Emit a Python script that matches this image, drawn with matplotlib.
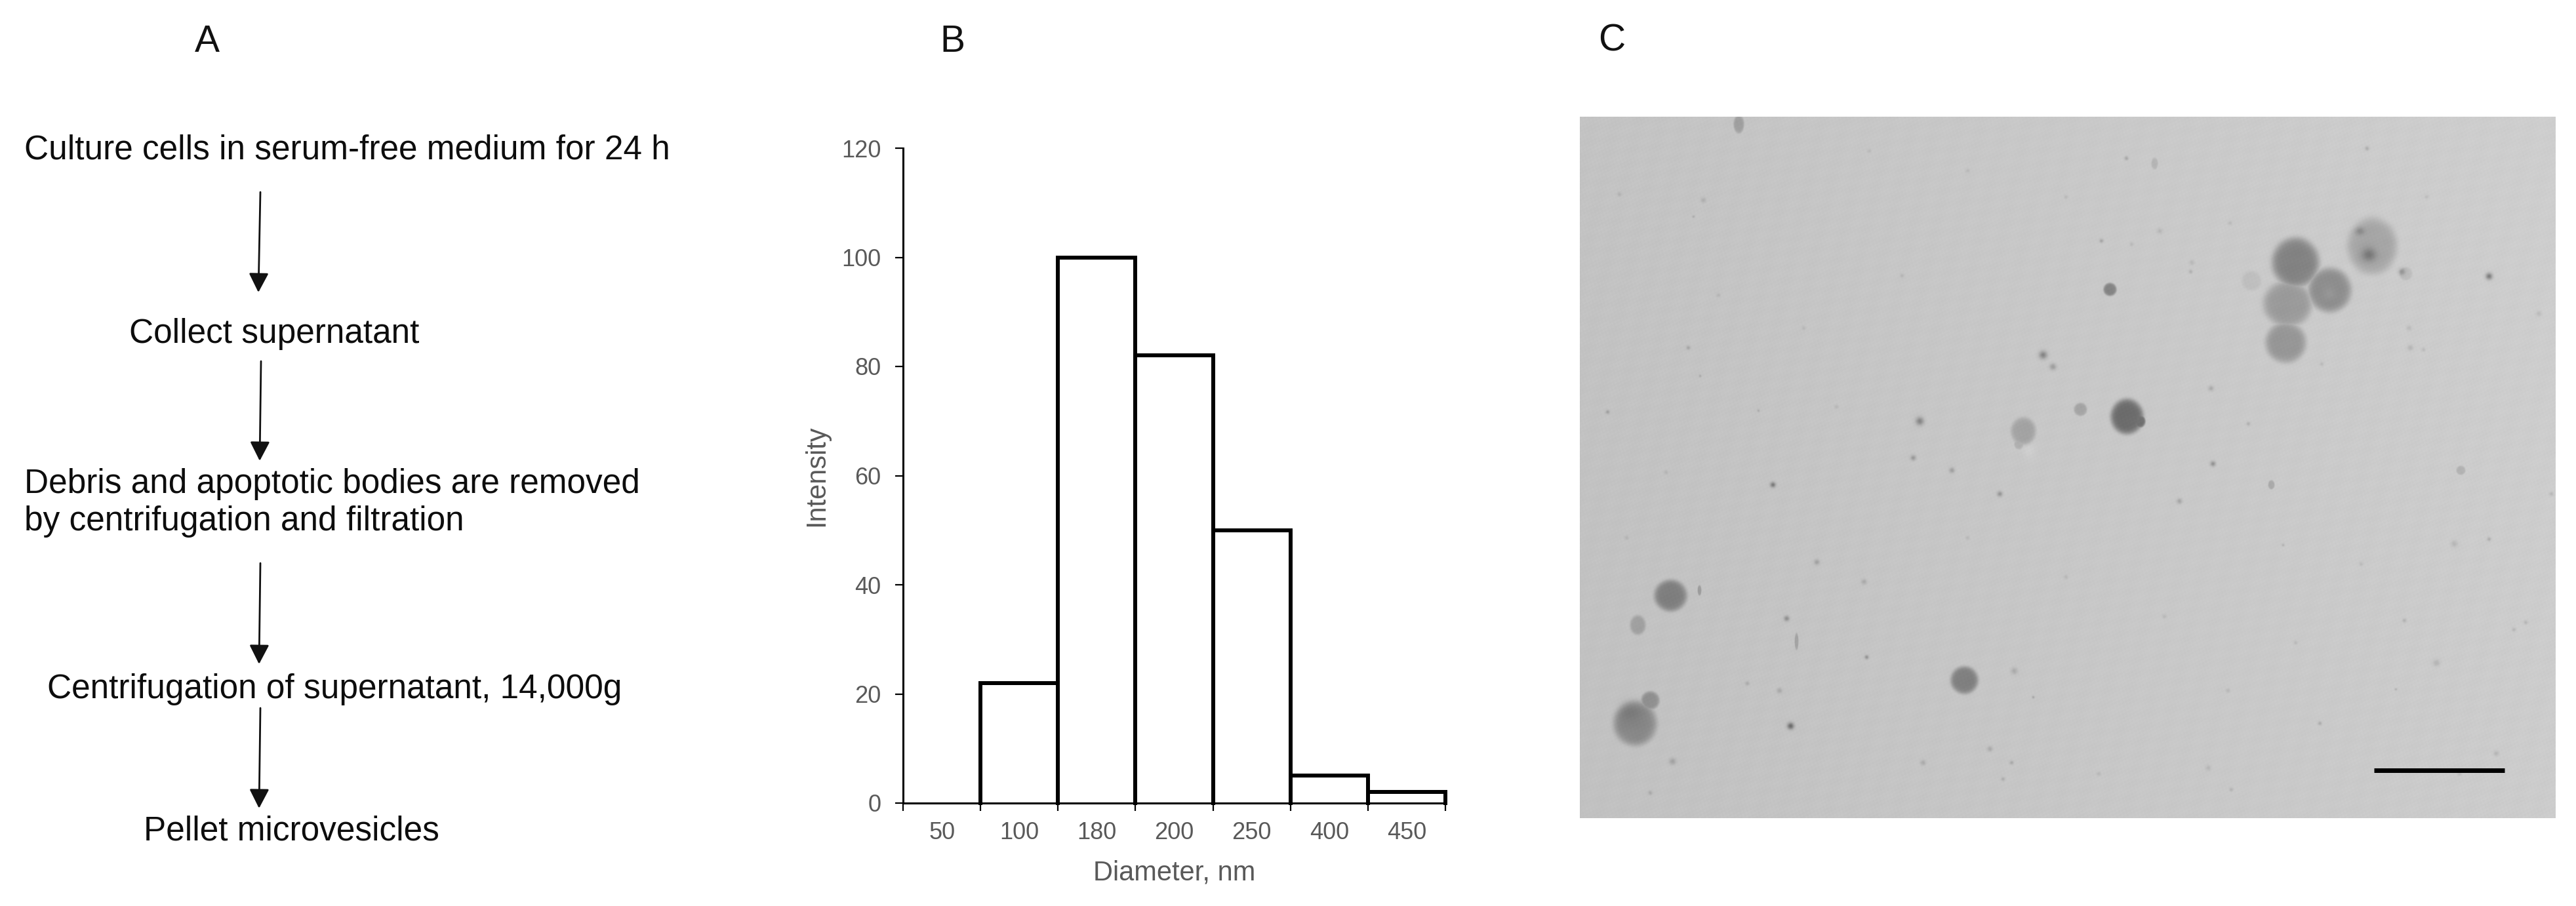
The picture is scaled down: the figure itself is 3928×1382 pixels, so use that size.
import numpy as np
import matplotlib
matplotlib.use("Agg")
import matplotlib.pyplot as plt

plt.rcParams['font.family'] = ['Liberation Sans', 'DejaVu Sans']

W, H = 3928, 1382
DIAMETERS = ["50", "100", "180", "200", "250", "400", "450"]
INTENSITY = [0, 22, 100, 82, 50, 5, 2]
Y_TICKS = [0, 20, 40, 60, 80, 100, 120]

STEPS = ["Culture cells in serum-free medium for 24 h", "Collect supernatant",
         "Debris and apoptotic bodies are removed\nby centrifugation and filtration",
         "Centrifugation of supernatant, 14,000g", "Pellet microvesicles"]
STEP_X = [37, 197, 37, 72, 219]
STEP_Y = [229, 509, 767, 1052, 1268]
ARROW_X0 = [397, 398, 397, 397]
ARROW_X1 = [394, 396, 395, 395]
ARROW_Y0 = [293, 551, 859, 1080]
ARROW_Y1 = [446, 703, 1013, 1233]

PANEL_LABELS = ["A", "B", "C"]
PANEL_X = [297, 1433, 2437]
PANEL_Y = [64, 64, 62]

# micrograph features in image pixels: x, y, x radius, y radius, darkness
BLOBS = [
 (3500,400,36,38,72),(3552,442,33,34,62),(3488,463,37,35,48),(3485,522,31,31,52),
 (3617,375,38,43,38),(3217,441,10,10,68),(3668,417,10,10,16),(3433,428,15,15,12),
 (3243,635,25,27,92),(3262,642,9,10,88),(3172,624,10,10,35),
 (3085,657,19,21,36),(3078,677,7,8,24),(2547,908,25,24,68),(2497,953,12,15,34),
 (2493,1103,33,34,58),(2516,1068,14,14,50),(2995,1037,21,21,70),(2651,189,8,14,38),
 (3752,717,7,7,26),(3463,739,5,7,32),(3285,249,5,9,20),(2739,978,3,13,32),(2591,900,3,8,38),
]
DETAILS = [
 (3552,447,10,10,-10),(3612,388,11,10,45),(3598,352,7,6,30),(3662,414,5,5,40),
 (3093,688,10,10,-8),(2486,1087,18,18,14),
]
SPECKS = [
 (3115,541,6,65),(3130,559,5,42),(2927,642,6,65),(2917,698,4,45),(2976,717,4,40),(3049,753,4,50),
 (3374,707,4,55),(3323,764,4,35),(3371,592,4,30),(2730,1107,5,90),(2724,943,4,55),(2770,857,4,35),
 (2842,887,4,28),(2846,1002,3,50),(2550,1161,5,32),(2932,1163,4,28),(3034,1142,4,28),(3071,1023,5,28),
 (2664,1042,3,25),(2713,1053,4,28),(3054,1188,3,25),(3067,1163,3,30),(2516,1209,3,25),(3795,421,5,80),
 (2703,739,4,75),(3242,241,3,35),(3609,226,3,30),(2597,305,4,22),(2469,296,3,18),(2582,330,2,25),
 (3204,367,3,35),(3340,414,3,25),(2574,530,3,30),(2451,628,3,35),(2681,626,2,25),(2592,573,2,25),
 (3742,829,5,22),(3795,822,3,30),(3715,1011,5,22),(3537,1103,3,30),(3666,946,3,25),(3851,949,3,22),
 (3833,960,3,22),(3481,831,2,25),(3428,646,3,25),(3675,530,4,22),(3890,753,3,22),(3871,478,4,18),
 (3806,1149,4,22),(3397,1053,3,18),(3100,1063,2,32),(3653,1051,2,25),(3402,1204,3,22),(3367,1171,4,18),
 (3293,352,4,18),(3342,400,4,18),(3250,372,3,16),(3400,340,3,16),(3673,500,4,18),(3695,533,3,18),
 (3540,555,3,16),(3700,300,3,14),(3150,300,3,16),(2900,420,3,16),(2750,500,3,14),(2620,450,3,16),
 (2800,620,3,16),(2540,720,3,16),(2480,820,3,16),(3000,820,3,16),(3150,880,3,16),(3300,940,3,16),
 (3500,980,3,16),(3600,860,3,16),(3750,1180,3,16),(3200,1180,3,16),(3000,260,3,14),(2850,230,3,14),
]
IMG_LEFT, IMG_RIGHT, IMG_TOP, IMG_BOTTOM = 2409, 3897, 178, 1248
SCALE_BAR_X = [3620, 3819]
SCALE_BAR_Y = 1175

fig = plt.figure(figsize=(W/100, H/100), dpi=100, facecolor='white')
bg = fig.add_axes([0, 0, 1, 1]); bg.set_xlim(0, W); bg.set_ylim(H, 0); bg.axis('off')

for s, x, y in zip(STEPS, STEP_X, STEP_Y):
    bg.text(x, y, s, fontsize=37, color='#0d0d0d', ha='left', va='center', linespacing=1.22)
for x0, x1, y0, y1 in zip(ARROW_X0, ARROW_X1, ARROW_Y0, ARROW_Y1):
    bg.annotate('', xy=(x1, y1), xytext=(x0, y0),
                arrowprops=dict(arrowstyle='-|>,head_length=0.82,head_width=0.42', color='#111111', lw=2.0,
                                mutation_scale=22, shrinkA=0, shrinkB=0))
for s, x, y in zip(PANEL_LABELS, PANEL_X, PANEL_Y):
    bg.text(x, y, s, fontsize=41, color='#111111', ha='left', va='center')

# histogram
L, R, T, B = 1377, 2204, 226, 1225
ax = fig.add_axes([L/W, 1-B/H, (R-L)/W, (B-T)/H])
xpos = np.arange(len(INTENSITY))
for x, h in zip(xpos[1:], INTENSITY[1:]):
    ax.plot([x-.5, x-.5, x+.5, x+.5], [0, h, h, 0], color='black', lw=4.3,
            solid_joinstyle='miter', clip_on=False, zorder=3)
ax.set_xlim(-0.5, 6.5); ax.set_ylim(0, 120)
ax.set_xticks(np.append(xpos - 0.5, 6.5))
ax.set_xticklabels([""]*8)
for x, lab in zip(xpos, DIAMETERS):
    ax.annotate(lab, (x, 0), xytext=(0, -32.5), textcoords='offset points', ha='center', va='center',
                fontsize=26, color='#595959', annotation_clip=False)
ax.set_yticks(Y_TICKS)
ax.tick_params(axis='y', length=8.5, width=1.6, pad=15.5, labelsize=26, labelcolor='#595959', color='black')
ax.tick_params(axis='x', length=8.5, width=1.6, color='black')
for s in ['top', 'right']:
    ax.spines[s].set_visible(False)
for s in ['left', 'bottom']:
    ax.spines[s].set_linewidth(2.2)
ax.text(0.5, -0.107, "Diameter, nm", transform=ax.transAxes, ha='center', va='center', fontsize=30, color='#595959')
ax.text(-0.16, 0.5, "Intensity", transform=ax.transAxes, ha='center', va='center', rotation=90, fontsize=30, color='#595959')

# micrograph: smooth sheet, faint mottling, overlapping vesicles take the darkest value
pw, ph = IMG_RIGHT-IMG_LEFT, IMG_BOTTOM-IMG_TOP
yy, xx = np.mgrid[IMG_TOP:IMG_BOTTOM, IMG_LEFT:IMG_RIGHT]
img = 193.0 + 11.0*(xx-IMG_LEFT)/pw + 2.0*(IMG_BOTTOM-yy)/ph
img += 1.6*np.sin(xx*0.83 + yy*0.37)*np.sin(xx*0.29 - yy*0.71) + 1.2*np.sin(xx*0.11 + yy*0.17)*np.cos(xx*0.07 - yy*0.13)
vesicles = np.zeros_like(img)
for cx, cy, rx, ry, d in BLOBS:
    r = np.hypot((xx-cx)/rx, (yy-cy)/ry)
    vesicles = np.maximum(vesicles, d*np.exp(-r**8))
img -= vesicles
for cx, cy, rx, ry, d in DETAILS:
    r = np.hypot((xx-cx)/rx, (yy-cy)/ry)
    img -= d*np.exp(-r**2)
for cx, cy, rad, d in SPECKS:
    r = np.hypot((xx-cx)/rad, (yy-cy)/rad)
    img -= d*np.exp(-r**2)
iax = fig.add_axes([IMG_LEFT/W, 1-IMG_BOTTOM/H, pw/W, ph/H])
iax.imshow(np.clip(img, 0, 255), cmap='gray', vmin=0, vmax=255, aspect='auto', interpolation='bilinear',
           extent=(IMG_LEFT, IMG_RIGHT, IMG_BOTTOM, IMG_TOP))
iax.axis('off')
iax.plot(SCALE_BAR_X, [SCALE_BAR_Y, SCALE_BAR_Y], color='black', lw=5, solid_capstyle='butt')
iax.set_xlim(IMG_LEFT, IMG_RIGHT); iax.set_ylim(IMG_BOTTOM, IMG_TOP)

fig.savefig('out.png', dpi=100, facecolor='white')
